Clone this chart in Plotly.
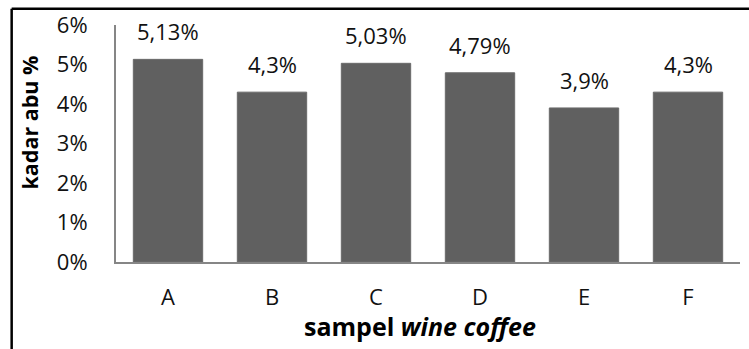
import plotly.graph_objects as go

# Ash content (%) per wine coffee sample
samples = ["A", "B", "C", "D", "E", "F"]
kadar_abu = [5.13, 4.3, 5.03, 4.79, 3.9, 4.3]
y_ticks = [0, 1, 2, 3, 4, 5, 6]
y_tick_text = [f"{t}%" for t in y_ticks]

FONT = "Open Sans"
W, H = 749, 349
L, R, T, B = 115.5, 8.5, 22, 87.3
pw, ph = W - L - R, H - T - B


def px_x(px):
    return (px - L) / pw


def px_y(py):
    return (H - B - py) / ph


labels = [f"{v:g}".replace(".", ",") + "%" for v in kadar_abu]

fig = go.Figure(
    go.Bar(
        x=samples,
        y=kadar_abu,
        marker=dict(color="#606060", line=dict(color="#6a6a6a", width=1)),
        hoverinfo="skip",
    )
)

for s, v, t in zip(samples, kadar_abu, labels):
    fig.add_annotation(
        x=s, y=v, text=t, showarrow=False, yanchor="middle", yshift=28,
        font=dict(family=FONT, size=22, color="#111"),
    )

fig.add_annotation(
    x=px_x(420), y=px_y(326), xref="paper", yref="paper", showarrow=False,
    xanchor="center", yanchor="middle",
    text="<b>sampel <i>wine coffee</i></b>",
    font=dict(family=FONT, size=25, color="#000"),
)
fig.add_annotation(
    x=px_x(29), y=px_y(121), xref="paper", yref="paper", showarrow=False,
    xanchor="center", yanchor="middle",
    text="<b>kadar abu %</b>", textangle=-90,
    font=dict(family=FONT, size=21.5, color="#000"),
)

# outer frame (top and left edges; the rest runs off the page)
frame = dict(type="line", xref="paper", yref="paper",
             line=dict(color="#000", width=2.5))
fig.add_shape(x0=px_x(11), x1=px_x(W + 20), y0=px_y(5.5), y1=px_y(5.5), **frame)
fig.add_shape(x0=px_x(11), x1=px_x(11), y0=px_y(5.5), y1=px_y(H + 20), **frame)

fig.update_layout(
    width=W, height=H,
    margin=dict(l=L, r=R, t=T, b=B, pad=0),
    paper_bgcolor="white", plot_bgcolor="white",
    bargap=0.333, showlegend=False,
    font=dict(family=FONT, size=22, color="#111"),
    xaxis=dict(
        showline=True, linecolor="#868686", linewidth=2, showgrid=False,
        ticks="", ticklabelstandoff=15, tickfont=dict(size=22),
    ),
    yaxis=dict(
        range=[0, 6], tickvals=y_ticks, ticktext=y_tick_text,
        showline=True, linecolor="#868686", linewidth=2, showgrid=False,
        zeroline=False, ticks="", ticklabelstandoff=22, tickfont=dict(size=22),
    ),
)

fig.write_html("out.html")
